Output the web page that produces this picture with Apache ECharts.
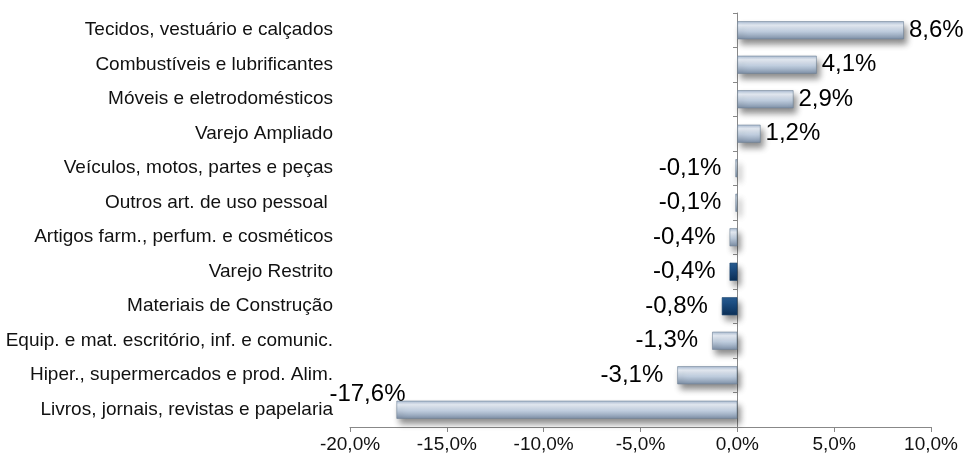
<!DOCTYPE html>
<html><head><meta charset="utf-8">
<script src="https://cdn.jsdelivr.net/npm/echarts@6/dist/echarts.min.js"></script>
<style>html,body{margin:0;padding:0;background:#fff}#c{width:971px;height:462px}</style>
</head><body><div id="c"></div>
<script>
var categories = [
  "Tecidos, vestuário e calçados",
  "Combustíveis e lubrificantes",
  "Móveis e eletrodomésticos",
  "Varejo Ampliado",
  "Veículos, motos, partes e peças",
  "Outros art. de uso pessoal ",
  "Artigos farm., perfum. e cosméticos",
  "Varejo Restrito",
  "Materiais de Construção",
  "Equip. e mat. escritório, inf. e comunic.",
  "Hiper., supermercados e prod. Alim.",
  "Livros, jornais, revistas e papelaria"
];
var values = [8.6, 4.1, 2.9, 1.2, -0.1, -0.1, -0.4, -0.4, -0.8, -1.3, -3.1, -17.6];
var highlighted = ["Varejo Restrito", "Materiais de Construção"];
var xTicks = { min: -20, max: 10, interval: 5 };

function fmt(v, d) { return v.toFixed(d).replace('.', ',') + '%'; }

var lightGrad = new echarts.graphic.LinearGradient(0, 0, 0, 1, [
  {offset: 0, color: '#a9bbd1'},
  {offset: 0.22, color: '#e8eef6'},
  {offset: 0.55, color: '#c2d0e1'},
  {offset: 1, color: '#7d8fa6'}
]);
var darkGrad = new echarts.graphic.LinearGradient(0, 0, 0, 1, [
  {offset: 0, color: '#2a5d90'},
  {offset: 0.3, color: '#1f5288'},
  {offset: 1, color: '#0b2f57'}
]);

var data = values.map(function (v, i) {
  var hi = highlighted.indexOf(categories[i]) >= 0;
  var item = {
    value: v,
    itemStyle: {
      color: hi ? darkGrad : lightGrad,
      borderColor: hi ? '#163f6a' : '#6f8196',
      borderWidth: 0.6,
      shadowColor: 'rgba(0,0,0,0.45)',
      shadowBlur: 6,
      shadowOffsetX: 3,
      shadowOffsetY: 5
    },
    label: {
      position: v >= 0 ? 'right' : 'left',
      distance: v >= 0 ? 5 : 14
    }
  };
  if (i === values.length - 1) {
    item.label = { position: 'left', distance: 0, offset: [9, -15] };
  }
  return item;
});

var chart = echarts.init(document.getElementById('c'));
chart.setOption({
  animation: false,
  backgroundColor: '#fff',
  textStyle: { fontFamily: 'Liberation Sans, Arial, sans-serif' },
  grid: { left: 350, right: 40, top: 13, bottom: 35 },
  xAxis: {
    type: 'value', min: xTicks.min, max: xTicks.max, interval: xTicks.interval,
    splitLine: { show: false },
    axisLine: { show: true, onZero: false, lineStyle: { color: '#888', width: 1 } },
    axisTick: { show: true, length: 5, lineStyle: { color: '#888' } },
    axisLabel: { color: '#111', fontSize: 19, margin: 8, formatter: function (v) { return fmt(v, 1); } }
  },
  yAxis: [{
    type: 'category', data: categories, inverse: true,
    axisLine: { show: false }, axisTick: { show: false },
    axisLabel: { color: '#111', fontSize: 19, margin: 17 }
  }, {
    type: 'category', data: categories, inverse: true, position: 'left', offset: -387,
    axisLine: { show: true, lineStyle: { color: '#888' } },
    axisTick: { show: true, length: 4, lineStyle: { color: '#888' } },
    axisLabel: { show: false }
  }],
  series: [{
    type: 'bar', data: data, barWidth: 18, yAxisIndex: 0,
    label: {
      show: true, color: '#000', fontSize: 24,
      formatter: function (p) { return fmt(p.value, 1); }
    }
  }]
});
</script></body></html>
